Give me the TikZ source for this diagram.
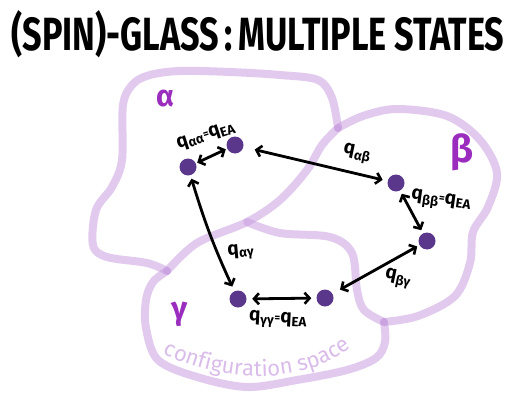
\documentclass[tikz,border=0pt]{standalone}
\usepackage{fontspec}
\setmainfont{Fira Sans}
\usetikzlibrary{arrows.meta,decorations.text}
\definecolor{regc}{RGB}{196,150,220}
\definecolor{dotc}{RGB}{91,55,140}
\definecolor{greekc}{RGB}{155,45,190}
\definecolor{cfgc}{RGB}{218,188,234}
\newcommand{\smeq}{{\fontsize{11}{11}\selectfont\raisebox{1pt}{=}}}
\begin{document}
\begin{tikzpicture}[x=1pt,y=-1pt,
  region/.style={draw=regc, opacity=0.5, line width=8pt, line cap=round, line join=round},
  dot/.style={circle, fill=dotc, minimum size=17pt, inner sep=0pt},
  arr/.style={draw=black, line width=2.8pt, line cap=round,
    {Straight Barb[length=5pt,width=11pt,line width=2.6pt]}-{Straight Barb[length=5pt,width=11pt,line width=2.6pt]}},
  qlab/.style={font=\fontsize{19}{19}\selectfont\bfseries, inner sep=0pt},
  greek/.style={text=greekc, inner sep=0pt}]
\useasboundingbox (0,0) rectangle (516,404);
% title
\node[anchor=base, inner sep=0pt] (title) at (258,50)
  {\resizebox{493pt}{40pt}{\fontsize{40}{40}\selectfont\bfseries (SPIN)-GLASS\,:\,MULTIPLE STATES}};
% regions
\draw[region] plot[smooth, tension=0.55] coordinates {(167,271) (147,263) (107,257) (93,245) (96,210) (112,187) (122,160) (123,105) (133,84) (150,75) (180,71) (230,72) (280,75) (318,80) (332,98) (338,128)};
\draw[region] plot[smooth, tension=0.55] coordinates {(338,128) (363,116) (397,109) (447,116) (480,140) (497,173) (488,207) (473,232) (470,263) (455,296) (418,316) (384,322)};
\draw[region] plot[smooth, tension=0.55] coordinates {(384,322) (385,342) (376,358) (347,370) (297,380) (247,387) (197,377) (158,360) (146,328) (146,300) (153,282) (167,271)};
\draw[region] plot[smooth, tension=0.55] coordinates {(338,128) (322,145) (307,170) (280,200) (247,222) (197,243) (167,271)};
\draw[region] plot[smooth, tension=0.55] coordinates {(247,222) (280,233) (330,237) (352,253) (357,290) (364,310) (384,322)};
% configuration space label
\path[decorate, decoration={text along path, text align=center,
  text={|\fontsize{22}{22}\selectfont\color{cfgc}|configuration space}}]
  (164,354) .. controls (220,382) and (300,387) .. (350,348);
% greek labels
\node[greek, font=\fontsize{30}{30}\selectfont\bfseries] (alpha) at (165,99) {α};
\node[greek, font=\fontsize{38}{38}\selectfont\bfseries] (beta) at (462,152) {β};
\node[greek, font=\fontsize{32}{32}\selectfont\bfseries] (gamma) at (180,314) {γ};
% states
\node[dot] (a1) at (188,167) {};
\node[dot] (a2) at (235,145) {};
\node[dot] (b1) at (396,183) {};
\node[dot] (b2) at (427,241) {};
\node[dot] (g1) at (238,299) {};
\node[dot] (g2) at (325,298) {};
% overlaps
\draw[arr, shorten <=1.5pt, shorten >=1.5pt] (a1) -- (a2);
\draw[arr, shorten <=11.5pt, shorten >=5pt] (a2) -- (b1);
\draw[arr, shorten <=3.5pt, shorten >=3.5pt] (b1) -- (b2);
\draw[arr, shorten <=2.5pt, shorten >=8.5pt] (b2) -- (g2);
\draw[arr, shorten <=5.5pt, shorten >=5pt] (g1) -- (g2);
\draw[arr, shorten <=3.5pt, shorten >=5pt] (a1) to[bend right=4] (g1);
% overlap labels
\node[qlab, rotate=18] (laa) at (206,136) {q\textsubscript{αα}\smeq q\textsubscript{EA}};
\node[qlab, rotate=-12] (lab) at (357,154) {q\textsubscript{αβ}};
\node[qlab, rotate=-8] (lbb) at (441,201) {q\textsubscript{ββ}\smeq q\textsubscript{EA}};
\node[qlab, rotate=-12] (lbg) at (398,279) {q\textsubscript{βγ}};
\node[qlab, rotate=-3] (lgg) at (278,320) {q\textsubscript{γγ}\smeq q\textsubscript{EA}};
\node[qlab, rotate=5] (lag) at (241,252) {q\textsubscript{αγ}};
\end{tikzpicture}
\end{document}
